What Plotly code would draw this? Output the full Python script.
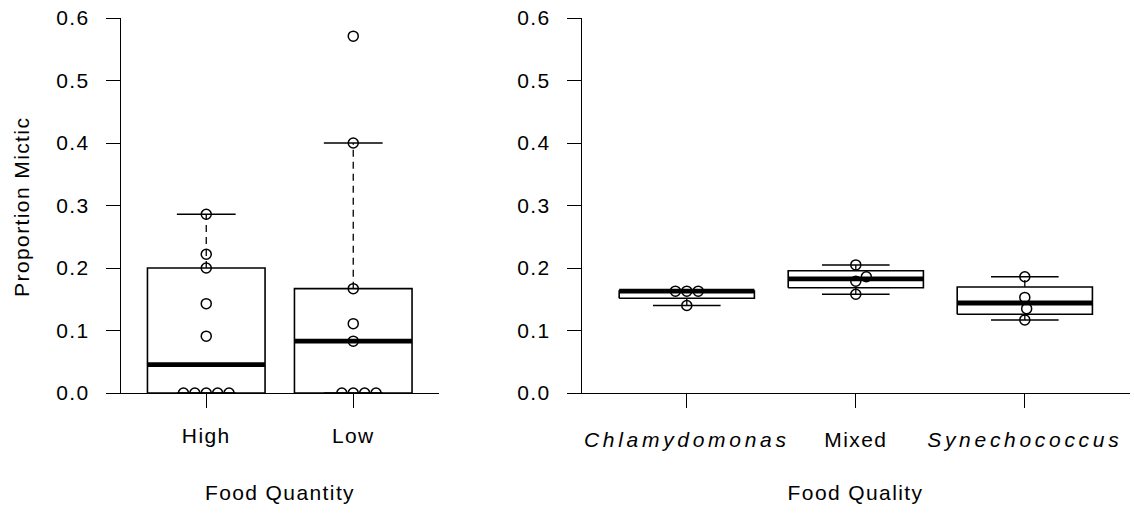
import math
import plotly.graph_objects as go

# ---------------- data ----------------
quantity_groups = ["High", "Low"]
high_values = [0, 0, 0, 0, 0, 0.091, 0.143, 0.200, 0.222, 0.286]
low_values = [0, 0, 0, 0, 0.083, 0.111, 0.167, 0.400, 0.571]

quality_groups = ["Chlamydomonas", "Mixed", "Synechococcus"]
quality_italic = [True, False, True]
chlamy_values = [0.140, 0.163, 0.163, 0.163]
mixed_values = [0.158, 0.179, 0.186, 0.205]
synecho_values = [0.117, 0.135, 0.153, 0.186]

y_tick_values = [0.0, 0.1, 0.2, 0.3, 0.4, 0.5, 0.6]
y_title = "Proportion Mictic"
left_x_title = "Food Quantity"
right_x_title = "Food Quality"

# ---------------- geometry ----------------
W, H = 1134, 514
PLOT_TOP, PLOT_BOTTOM = 18, 393
LEFT_PX = (121, 438.5)
RIGHT_PX = (582, 1129.6)
Y_RANGE = [0, 0.6]
FONT = "Liberation Sans, Arial, Helvetica, sans-serif"
FS = 21
BOX_HALF = 0.4
CAP_HALF = 0.2
PT_DIAM_PX = 11.4


def xrange_for(n):
    ext = 0.04 * n
    return [0.5 - ext, n + 0.5 + ext]


def fivenum(v):
    x = sorted(v)
    n = len(x)
    n4 = math.floor((n + 3) / 2) / 2
    d = [1, n4, (n + 1) / 2, n + 1 - n4, n]
    return [0.5 * (x[math.floor(di) - 1] + x[math.ceil(di) - 1]) for di in d]


def box_stats(v):
    _, lh, med, uh, _ = fivenum(v)
    iqr = uh - lh
    lo = min(a for a in v if a >= lh - 1.5 * iqr)
    hi = max(a for a in v if a <= uh + 1.5 * iqr)
    return lo, lh, med, uh, hi


def swarm_offsets(vals, px_per_x, px_per_y, d):
    order = sorted(range(len(vals)), key=lambda i: vals[i])
    placed = []
    offs = [0.0] * len(vals)
    for i in order:
        y = vals[i] * px_per_y
        cands = [0.0]
        for xp, yp in placed:
            dy = abs(y - yp)
            if dy < d:
                dx = math.sqrt(d * d - dy * dy)
                cands += [xp + dx, xp - dx]
        cands.sort(key=lambda c: (round(abs(c), 6), -c))
        chosen = 0.0
        for c in cands:
            if all((c - xp) ** 2 + (y - yp) ** 2 >= d * d - 1e-6 for xp, yp in placed):
                chosen = c
                break
        placed.append((chosen, y))
        offs[i] = chosen / px_per_x
    return offs


def panel_traces(values_list, xa, ya, px_range):
    n = len(values_list)
    xr = xrange_for(n)
    px_per_x = (px_range[1] - px_range[0]) / (xr[1] - xr[0])
    px_per_y = (PLOT_BOTTOM - PLOT_TOP) / (Y_RANGE[1] - Y_RANGE[0])
    bx, by, mx, my, wx, wy, cx, cy, px, py = ([] for _ in range(10))
    for i, vals in enumerate(values_list):
        c = i + 1
        lo, lh, med, uh, hi = box_stats(vals)
        bx += [c - BOX_HALF, c + BOX_HALF, c + BOX_HALF, c - BOX_HALF, c - BOX_HALF, None]
        by += [lh, lh, uh, uh, lh, None]
        mx += [c - BOX_HALF, c + BOX_HALF, None]
        my += [med, med, None]
        wx += [c, c, None, c, c, None]
        wy += [uh, hi, None, lh, lo, None]
        cx += [c - CAP_HALF, c + CAP_HALF, None, c - CAP_HALF, c + CAP_HALF, None]
        cy += [hi, hi, None, lo, lo, None]
        offs = swarm_offsets(vals, px_per_x, px_per_y, PT_DIAM_PX)
        px += [c + o for o in offs]
        py += list(vals)
    common = dict(xaxis=xa, yaxis=ya, showlegend=False, hoverinfo="skip")
    return [
        go.Scatter(x=wx, y=wy, mode="lines", line=dict(color="black", width=1.3, dash="7px,5px"), **common),
        go.Scatter(x=bx, y=by, mode="lines", line=dict(color="black", width=1.6), **common),
        go.Scatter(x=mx, y=my, mode="lines", line=dict(color="black", width=4.8), **common),
        go.Scatter(x=cx, y=cy, mode="lines", line=dict(color="black", width=1.5), **common),
        go.Scatter(x=px, y=py, mode="markers",
                   marker=dict(symbol="circle-open", size=10, color="black", line=dict(width=1.5)),
                   **common),
    ]


fig = go.Figure()
for t in panel_traces([high_values, low_values], "x", "y", LEFT_PX):
    fig.add_trace(t)
for t in panel_traces([chlamy_values, mixed_values, synecho_values], "x2", "y2", RIGHT_PX):
    fig.add_trace(t)

ydom = [(H - PLOT_BOTTOM) / H, (H - PLOT_TOP) / H]
axis_common = dict(showline=True, linecolor="black", linewidth=1.3, ticks="outside", ticklen=14,
                   tickwidth=1.3, tickcolor="black", showgrid=False, zeroline=False,
                   automargin=False,
                   tickfont=dict(family=FONT, size=FS, color="black"))

right_ticktext = [f"<i>{g}</i>" if it else g for g, it in zip(quality_groups, quality_italic)]

fig.update_layout(
    template="none",
    width=W, height=H,
    margin=dict(l=0, r=0, t=0, b=0, pad=0),
    paper_bgcolor="white", plot_bgcolor="white",
    hovermode=False,
    xaxis=dict(domain=[LEFT_PX[0] / W, LEFT_PX[1] / W], range=xrange_for(2), anchor="y",
               tickvals=[1, 2], ticktext=quantity_groups, ticklabelstandoff=10, **axis_common),
    yaxis=dict(domain=ydom, range=Y_RANGE, anchor="x", tickvals=y_tick_values,
               ticktext=[f"{v:.1f}" for v in y_tick_values], ticklabelstandoff=12, **axis_common),
    xaxis2=dict(domain=[RIGHT_PX[0] / W, RIGHT_PX[1] / W], range=xrange_for(3), anchor="y2",
                tickvals=[1, 2, 3], ticktext=right_ticktext, ticklabelstandoff=14, **axis_common),
    yaxis2=dict(domain=ydom, range=Y_RANGE, anchor="x2", tickvals=y_tick_values,
                ticktext=[f"{v:.1f}" for v in y_tick_values], ticklabelstandoff=12, **axis_common),
    annotations=[
        dict(text=y_title, xref="paper", yref="paper", x=21 / W, y=(H - 207) / H,
             textangle=-90, showarrow=False, xanchor="center", yanchor="middle",
             font=dict(family=FONT, size=FS, color="black")),
        dict(text=left_x_title, xref="x", yref="paper", x=1.5, y=(H - 492) / H,
             showarrow=False, xanchor="center", yanchor="middle",
             font=dict(family=FONT, size=FS, color="black")),
        dict(text=right_x_title, xref="x2", yref="paper", x=2, y=(H - 492) / H,
             showarrow=False, xanchor="center", yanchor="middle",
             font=dict(family=FONT, size=FS, color="black")),
    ],
)

post = """
(function(){
  var gd = document.getElementById('{plot_id}');
  function fix(){
    gd.querySelectorAll('text').forEach(function(t){
      var s = t.textContent;
      if (s === 'Chlamydomonas' || s === 'Synechococcus') { t.style.letterSpacing = '3.7px'; }
      else { t.style.letterSpacing = '1.4px'; }
    });
  }
  fix();
  if (gd && gd.on) { gd.on('plotly_afterplot', fix); }
})();
"""

fig.write_html("out.html", post_script=post)
